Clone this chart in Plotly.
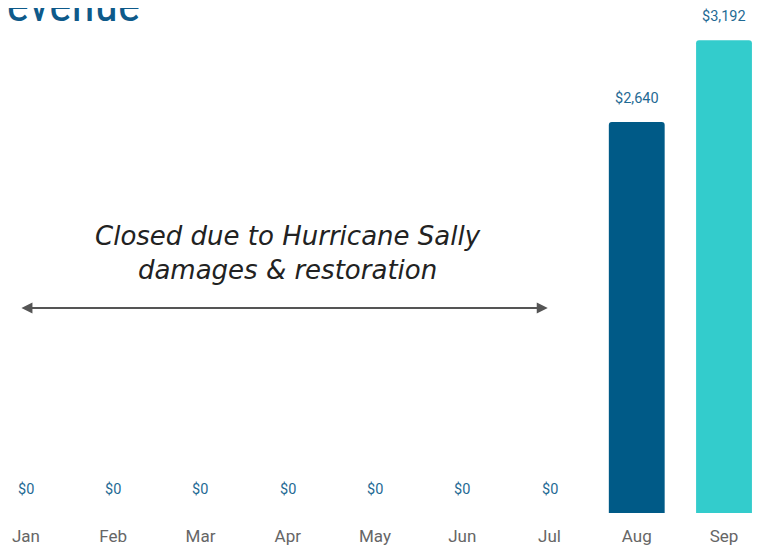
import plotly.graph_objects as go

months = ["Jan", "Feb", "Mar", "Apr", "May", "Jun", "Jul", "Aug", "Sep"]
revenue = [0, 0, 0, 0, 0, 0, 0, 2640, 3192]
bar_colors = ["#005a87"] * 8 + ["#33cccc"]
labels = ["${:,.0f}".format(v) for v in revenue]
note_text = "<i>Closed due to Hurricane Sally<br>damages & restoration</i>"
title_text = "Revenue"

idx = list(range(len(months)))

fig = go.Figure()
fig.add_trace(go.Bar(
    x=idx, y=revenue, marker=dict(color=bar_colors, line=dict(width=0), cornerradius=3),
    width=0.64, hoverinfo="skip",
))

for i, v, t in zip(idx, revenue, labels):
    fig.add_annotation(x=i, y=v, text=t, showarrow=False, yanchor="middle", yshift=24,
                       font=dict(family="Roboto", size=14.5, color="#1f6a94"))

fig.add_annotation(x=5.98, y=1384, ax=-0.069, ay=1384, xref="x", yref="y", axref="x", ayref="y",
                   text="", showarrow=True, arrowhead=2, startarrowhead=2, arrowside="end+start",
                   arrowwidth=2, arrowsize=1.1, startarrowsize=1.1, arrowcolor="#555555")

fig.add_annotation(x=3.0, y=1759, xref="x", yref="y", text=note_text, showarrow=False,
                   font=dict(family="DejaVu Sans", size=26, color="#222222"), align="center")

fig.add_annotation(x=-0.039, y=1.0, xref="paper", yref="paper", xanchor="left", yanchor="bottom",
                   yshift=-27, text=title_text, showarrow=False,
                   font=dict(family="Roboto Condensed, DejaVu Sans Condensed", size=48,
                             color="#0e5a8a"))

fig.update_layout(
    width=753, height=548, margin=dict(l=0, r=0, t=0, b=43),
    paper_bgcolor="white", plot_bgcolor="white", showlegend=False,
    xaxis=dict(range=[-0.206, 8.424], tickmode="array", tickvals=idx, ticktext=months,
               showgrid=False, zeroline=False, showline=False, ticks="", ticklabelstandoff=11,
               tickfont=dict(family="Roboto", size=17, color="#666666")),
    yaxis=dict(range=[0, 3410], visible=False, showgrid=False, zeroline=False),
)

fig.write_html("out.html")
